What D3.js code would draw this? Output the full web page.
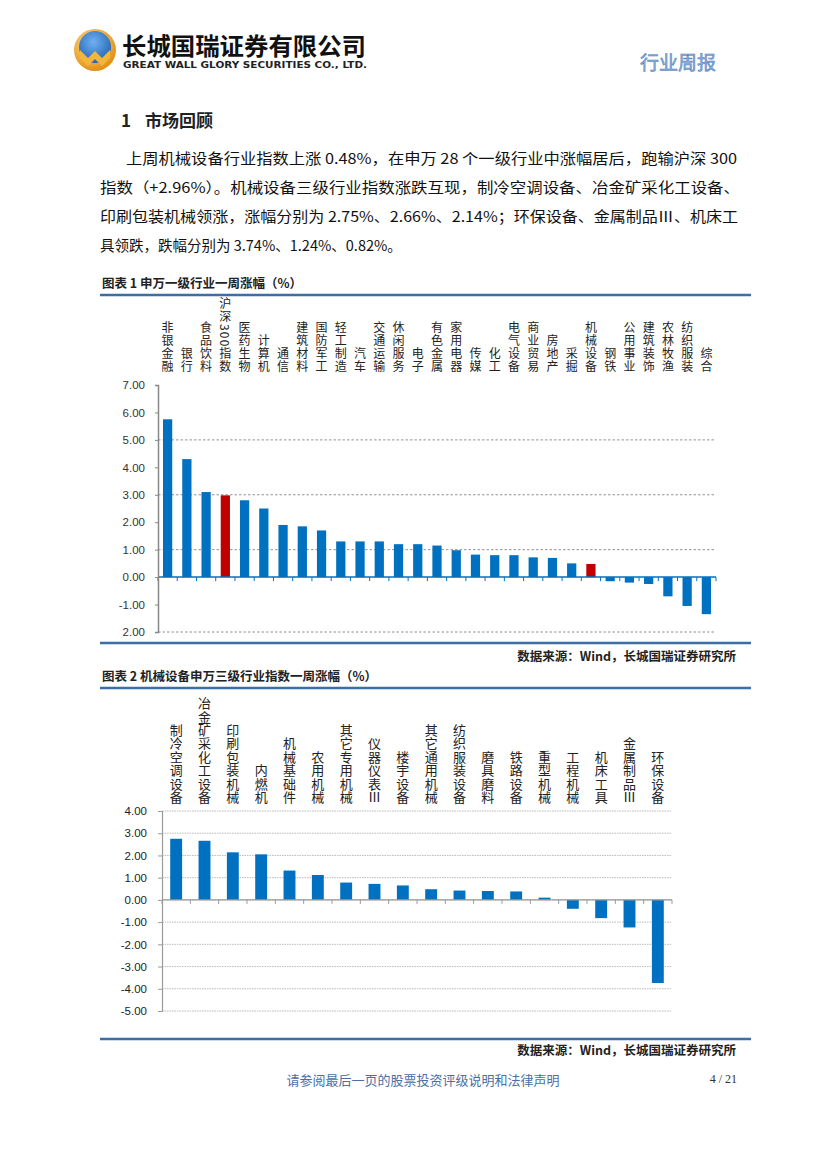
<!DOCTYPE html>
<html><head><meta charset="utf-8">
<script src="https://cdn.jsdelivr.net/npm/d3@7"></script>
<style>body{margin:0;background:#fff} svg{display:block}</style>
</head><body><svg id="c" width="827" height="1169"></svg>
<script>
// ---------- DATA ----------
const industries1 = ["非银金融","银行","食品饮料","沪深300指数","医药生物","计算机","通信","建筑材料","国防军工","轻工制造","汽车","交通运输","休闲服务","电子","有色金属","家用电器","传媒","化工","电气设备","商业贸易","房地产","采掘","机械设备","钢铁","公用事业","建筑装饰","农林牧渔","纺织服装","综合"];
const values1 = [5.75,4.30,3.10,2.98,2.80,2.50,1.90,1.85,1.70,1.30,1.30,1.30,1.20,1.20,1.15,0.98,0.82,0.80,0.80,0.72,0.70,0.50,0.48,-0.15,-0.20,-0.25,-0.70,-1.05,-1.35];
const highlight1 = ["沪深300指数","机械设备"];
const yTicks1 = [7,6,5,4,3,2,1,0,-1,-2];
const yTickLabels1 = ["7.00","6.00","5.00","4.00","3.00","2.00","1.00","0.00","-1.00","2.00"];
const gridLines1 = [5,3,1,-2];

const industries2 = ["制冷空调设备","冶金矿采化工设备","印刷包装机械","内燃机","机械基础件","农用机械","其它专用机械","仪器仪表Ⅲ","楼宇设备","其它通用机械","纺织服装设备","磨具磨料","铁路设备","重型机械","工程机械","机床工具","金属制品Ⅲ","环保设备"];
const values2 = [2.75,2.66,2.14,2.05,1.32,1.12,0.78,0.72,0.65,0.48,0.42,0.40,0.38,0.10,-0.40,-0.82,-1.24,-3.74];
const yTicks2 = [4,3,2,1,0,-1,-2,-3,-4,-5];
const yTickLabels2 = ["4.00","3.00","2.00","1.00","0.00","-1.00","-2.00","-3.00","-4.00","-5.00"];

const paragraph = [
  "上周机械设备行业指数上涨 0.48%，在申万 28 个一级行业中涨幅居后，跑输沪深 300",
  "指数（+2.96%）。机械设备三级行业指数涨跌互现，制冷空调设备、冶金矿采化工设备、",
  "印刷包装机械领涨，涨幅分别为 2.75%、2.66%、2.14%；环保设备、金属制品Ⅲ、机床工",
  "具领跌，跌幅分别为 3.74%、1.24%、0.82%。"
];

// ---------- DRAW ----------
const svg = d3.select("#c");
const CJK = "'Noto Sans CJK SC','Noto Sans',sans-serif";
const BLUE = "#0070c0", RED = "#c00000", LINE = "#3b6ea5";

// logo
const defs = svg.append("defs");
const gr = defs.append("radialGradient").attr("id","lg").attr("cx","40%").attr("cy","35%").attr("r","70%");
gr.append("stop").attr("offset","0%").attr("stop-color","#ffe08a");
gr.append("stop").attr("offset","100%").attr("stop-color","#e08a10");
const gb = defs.append("radialGradient").attr("id","lb").attr("cx","45%").attr("cy","35%").attr("r","70%");
gb.append("stop").attr("offset","0%").attr("stop-color","#6fb0f0");
gb.append("stop").attr("offset","100%").attr("stop-color","#1f5fb0");
svg.append("circle").attr("cx",95).attr("cy",50).attr("r",21).attr("fill","url(#lg)");
svg.append("circle").attr("cx",95).attr("cy",47).attr("r",16).attr("fill","url(#lb)");
svg.append("path").attr("d","M80,50 L88,58 L95,51 L102,58 L110,50 L110,58 L102,66 L95,59 L88,66 L80,58 Z").attr("fill","#f2b63a");

svg.append("text").attr("x",122).attr("y",55).attr("font-family",CJK).attr("font-weight",700)
  .attr("font-size",24).attr("fill","#111").attr("textLength",244).attr("lengthAdjust","spacingAndGlyphs").text("长城国瑞证券有限公司");
svg.append("text").attr("x",123).attr("y",68).attr("font-family","'DejaVu Sans',sans-serif").attr("font-weight",700)
  .attr("font-size",8.5).attr("fill","#222").attr("textLength",244).attr("lengthAdjust","spacingAndGlyphs").text("GREAT WALL GLORY SECURITIES CO., LTD.");
svg.append("text").attr("x",640).attr("y",70).attr("font-family",CJK).attr("font-size",19)
  .attr("fill","#8fb2de").attr("stroke","#4a78b5").attr("stroke-width",0.5).text("行业周报");

// section title
svg.append("text").attr("x",121).attr("y",127).attr("font-family",CJK).attr("font-size",17).attr("font-weight",700).attr("fill","#222").text("1");
svg.append("text").attr("x",145).attr("y",127).attr("font-family",CJK).attr("font-size",17).attr("font-weight",700).attr("fill","#222").text("市场回顾");

// paragraph
const pLines = [{x:126,y:164,w:611},{x:100,y:193,w:640},{x:100,y:222,w:638},{x:100,y:251,w:0}];
paragraph.forEach((t,i)=>{
  const tx = svg.append("text").attr("x",pLines[i].x).attr("y",pLines[i].y).attr("font-family",CJK)
    .attr("font-size",14.5).attr("fill","#111").text(t);
  if (pLines[i].w) tx.attr("textLength",pLines[i].w).attr("lengthAdjust","spacingAndGlyphs");
});

function caption(text, y){
  svg.append("text").attr("x",102).attr("y",y).attr("font-family",CJK).attr("font-size",12.5).attr("font-weight",700).attr("fill","#222").text(text);
}
function hline(y, w){ svg.append("line").attr("x1",100).attr("x2",751).attr("y1",y).attr("y2",y).attr("stroke",LINE).attr("stroke-width",w||2.5); }
function source(y){
  svg.append("text").attr("x",736).attr("y",y).attr("text-anchor","end").attr("font-family",CJK).attr("font-size",12.5).attr("font-weight",700).attr("fill","#222").text("数据来源：Wind，长城国瑞证券研究所");
}

// vertical label as a single text element (vertical writing mode)
function vlabel(g, text, cx, bottomY, size, spacing){
  g.append("text").attr("x",cx).attr("y",bottomY)
    .style("writing-mode","vertical-rl").attr("text-anchor","end")
    .attr("letter-spacing",spacing)
    .attr("font-family",CJK).attr("font-size",size).attr("fill","#222").text(text);
}

// ---------- CHART 1 ----------
caption("图表 1  申万一级行业一周涨幅（%）", 288);
hline(295);
const xb1 = d3.scaleBand().domain(industries1).range([158,716]);
const y1 = d3.scaleLinear().domain([-2,7]).range([632,385]);
const g1 = svg.append("g");
gridLines1.forEach(v=>{
  g1.append("line").attr("x1",158).attr("x2",716).attr("y1",y1(v)).attr("y2",y1(v))
    .attr("stroke","#777").attr("stroke-width",0.8).attr("stroke-dasharray","2.5,2");
});
const data1 = industries1.map((c,i)=>({c, v: values1[i]}));
g1.selectAll("rect").data(data1).join("rect")
  .attr("x",d=>xb1(d.c)+xb1.bandwidth()*0.26).attr("width",xb1.bandwidth()*0.48)
  .attr("y",d=>y1(Math.max(0,d.v))).attr("height",d=>Math.abs(y1(d.v)-y1(0)))
  .attr("fill",d=>highlight1.includes(d.c)?RED:BLUE);
const ay1 = d3.axisLeft(y1).tickValues(yTicks1).tickSize(3).tickFormat((d,i)=>yTickLabels1[i]);
const ga1 = svg.append("g").attr("transform","translate(158,0)").call(ay1);
ga1.select(".domain").attr("stroke","#888").attr("stroke-width",1.5);
ga1.selectAll(".tick line").attr("stroke","#888");
ga1.selectAll(".tick text").attr("font-family","'Liberation Sans',sans-serif").attr("font-size",11.5).attr("fill","#333").attr("x",-13);
g1.append("line").attr("x1",158).attr("x2",716).attr("y1",y1(0)).attr("y2",y1(0)).attr("stroke",BLUE).attr("stroke-width",1.5);
industries1.forEach(c=>{
  const xx = xb1(c);
  g1.append("line").attr("x1",xx).attr("x2",xx).attr("y1",y1(0)).attr("y2",y1(0)+4).attr("stroke",BLUE).attr("stroke-width",1);
});
g1.append("line").attr("x1",716).attr("x2",716).attr("y1",y1(0)).attr("y2",y1(0)+4).attr("stroke",BLUE);
industries1.forEach(c=> vlabel(g1, c, xb1(c)+xb1.bandwidth()/2, 374, 12, 1.2));
hline(643, 2.5);
source(661);

// ---------- CHART 2 ----------
caption("图表 2  机械设备申万三级行业指数一周涨幅（%）", 681);
hline(688);
const xb2 = d3.scaleBand().domain(industries2).range([162,672]);
const y2 = d3.scaleLinear().domain([-5,4]).range([1011,811]);
const g2 = svg.append("g");
yTicks2.forEach(v=>{
  g2.append("line").attr("x1",162).attr("x2",672).attr("y1",y2(v)).attr("y2",y2(v))
    .attr("stroke","#aaa").attr("stroke-width",0.8).attr("stroke-dasharray","1.5,1");
});
const data2 = industries2.map((c,i)=>({c, v: values2[i]}));
g2.selectAll("rect").data(data2).join("rect")
  .attr("x",d=>xb2(d.c)+xb2.bandwidth()*0.29).attr("width",xb2.bandwidth()*0.42)
  .attr("y",d=>y2(Math.max(0,d.v))).attr("height",d=>Math.abs(y2(d.v)-y2(0)))
  .attr("fill",BLUE);
const ay2 = d3.axisLeft(y2).tickValues(yTicks2).tickSize(4).tickFormat((d,i)=>yTickLabels2[i]);
const ga2 = svg.append("g").attr("transform","translate(162,0)").call(ay2);
ga2.select(".domain").attr("stroke","#999").attr("stroke-width",1.2);
ga2.selectAll(".tick line").attr("stroke","#999");
ga2.selectAll(".tick text").attr("font-family","'Liberation Sans',sans-serif").attr("font-size",11.5).attr("fill","#222").attr("x",-15);
g2.append("line").attr("x1",162).attr("x2",672).attr("y1",y2(0)).attr("y2",y2(0)).attr("stroke","#999").attr("stroke-width",1.2);
industries2.forEach(c=>{
  const xx = xb2(c);
  g2.append("line").attr("x1",xx).attr("x2",xx).attr("y1",y2(0)).attr("y2",y2(0)+4).attr("stroke","#999");
});
g2.append("line").attr("x1",672).attr("x2",672).attr("y1",y2(0)).attr("y2",y2(0)+4).attr("stroke","#999");
industries2.forEach(c=> vlabel(g2, c, xb2(c)+xb2.bandwidth()/2, 804, 13, 0.4));
hline(1039, 2.5);
source(1055);

// footer
svg.append("text").attr("x",423).attr("y",1085).attr("text-anchor","middle").attr("font-family",CJK).attr("font-size",13).attr("fill","#4a6fa5").text("请参阅最后一页的股票投资评级说明和法律声明");
svg.append("text").attr("x",737).attr("y",1083).attr("text-anchor","end").attr("font-family","'Liberation Serif',serif").attr("font-size",12).attr("fill","#333").text("4 / 21");
</script></body></html>
